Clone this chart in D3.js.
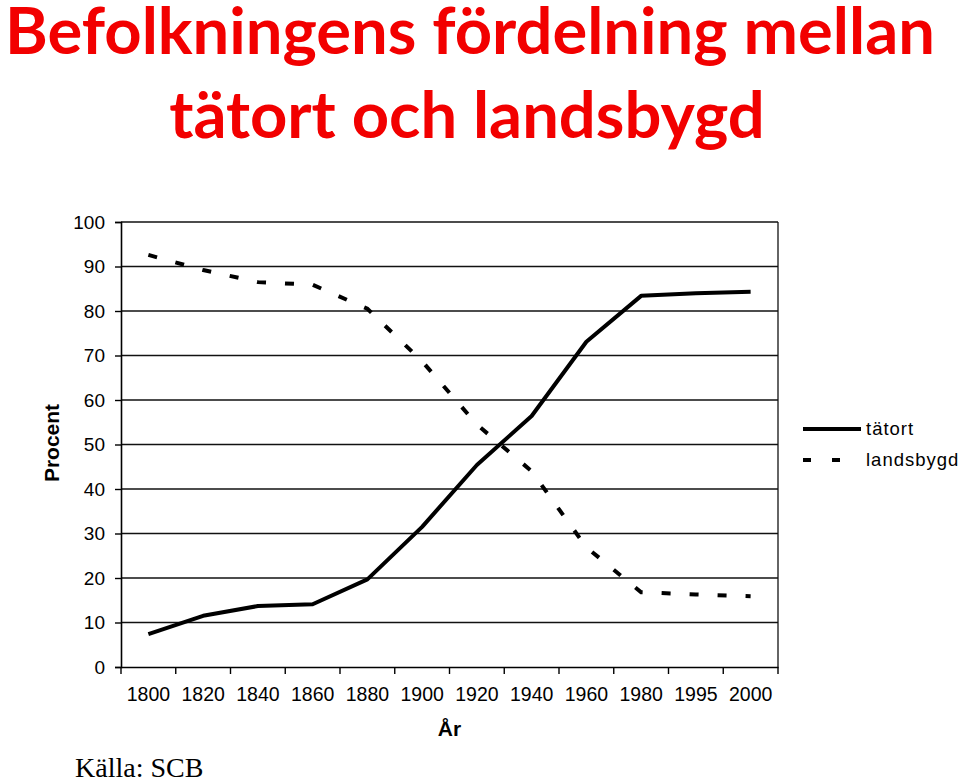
<!DOCTYPE html>
<html>
<head>
<meta charset="utf-8">
<script src="https://cdn.jsdelivr.net/npm/d3@7"></script>
<style>
  html, body { margin: 0; padding: 0; background: #fff; }
  svg { display: block; }
</style>
</head>
<body>
<svg id="chart" width="960" height="782"></svg>
<script>
const years = ["1800","1820","1840","1860","1880","1900","1920","1940","1960","1980","1995","2000"];
const tatort = [7.4, 11.5, 13.7, 14.1, 19.7, 31.5, 45.4, 56.4, 73.1, 83.4, 84.0, 84.3];
const landsbygd = [92.6, 89.2, 86.5, 85.9, 80.5, 68.7, 54.5, 44.0, 26.9, 16.8, 16.3, 15.9];
const yTicks = [0, 10, 20, 30, 40, 50, 60, 70, 80, 90, 100];
const seriesNames = ["tätort", "landsbygd"];
const titleLines = ["Befolkningens fördelning mellan", "tätort och landsbygd"];

(function () {
const svg = d3.select("#chart");
const pLeft = 121, pRight = 778, pTop = 222, pBottom = 667;

const x = d3.scaleBand().domain(years).range([pLeft, pRight]).padding(0);
const y = d3.scaleLinear().domain([0, 100]).range([pBottom, pTop]);

// Title
const titleG = svg.append("g");
const t1 = titleG.append("text")
  .attr("x", 470).attr("y", 54)
  .attr("text-anchor", "middle")
  .attr("font-family", "Lato, 'Open Sans', sans-serif")
  .attr("font-weight", 700)
  .attr("font-size", 60)
  .attr("fill", "#f20000")
  .text(titleLines[0]);
const w = t1.node().getComputedTextLength();
const fs = 60 * 930 / w;
t1.attr("font-size", fs);
titleG.append("text")
  .attr("x", 467).attr("y", 138)
  .attr("text-anchor", "middle")
  .attr("font-family", "Lato, 'Open Sans', sans-serif")
  .attr("font-weight", 700)
  .attr("font-size", fs)
  .attr("fill", "#f20000")
  .text(titleLines[1]);

// Gridlines
svg.append("g").selectAll("line").data(yTicks.filter(d => d > 0)).join("line")
  .attr("x1", pLeft).attr("x2", pRight)
  .attr("y1", d => y(d)).attr("y2", d => y(d))
  .attr("stroke", "#111").attr("stroke-width", 1.3);

// Plot border right
svg.append("line").attr("x1", pRight).attr("x2", pRight).attr("y1", pTop).attr("y2", pBottom)
  .attr("stroke", "#111").attr("stroke-width", 1.3);

// Y axis
const yAxis = d3.axisLeft(y).tickValues(yTicks).tickSize(6).tickPadding(10).tickFormat(d3.format("d"));
const yg = svg.append("g").attr("transform", `translate(${pLeft},0)`).call(yAxis);
yg.select(".domain").attr("stroke", "#000").attr("stroke-width", 1.6);
yg.selectAll(".tick line").attr("stroke", "#000").attr("stroke-width", 1.4);
yg.selectAll(".tick text").attr("font-family", "'Liberation Sans', Arial, sans-serif")
  .attr("font-size", 19).attr("fill", "#000");

// X axis with ticks at band boundaries
const xAxis = d3.axisBottom(x).tickSize(0).tickPadding(20);
const xg = svg.append("g").attr("transform", `translate(0,${pBottom})`).call(xAxis);
xg.select(".domain").attr("stroke", "#000").attr("stroke-width", 1.6);
xg.selectAll(".tick text").attr("font-family", "'Liberation Sans', Arial, sans-serif")
  .attr("font-size", 19.5).attr("fill", "#000");
const bounds = years.map(d => x(d)).concat([x(years[years.length - 1]) + x.bandwidth()]);
xg.append("g").selectAll("line").data(bounds).join("line")
  .attr("x1", d => d).attr("x2", d => d).attr("y1", 0).attr("y2", 7)
  .attr("stroke", "#000").attr("stroke-width", 1.4);

// Lines
const line = d3.line().x((d, i) => x(years[i]) + x.bandwidth() / 2).y(d => y(d));
svg.append("path").datum(landsbygd).attr("d", line)
  .attr("fill", "none").attr("stroke", "#000").attr("stroke-width", 4)
  .attr("stroke-dasharray", "9,19");
svg.append("path").datum(tatort).attr("d", line)
  .attr("fill", "none").attr("stroke", "#000").attr("stroke-width", 4)
  .attr("stroke-linejoin", "round");

// Axis titles
svg.append("text")
  .attr("transform", "translate(59,443) rotate(-90)")
  .attr("text-anchor", "middle")
  .attr("font-family", "'Liberation Sans', Arial, sans-serif")
  .attr("font-weight", 700).attr("font-size", 21)
  .text("Procent");
svg.append("text")
  .attr("x", (pLeft + pRight) / 2).attr("y", 736)
  .attr("text-anchor", "middle")
  .attr("font-family", "'Liberation Sans', Arial, sans-serif")
  .attr("font-weight", 700).attr("font-size", 21)
  .text("År");

// Legend
const legend = svg.append("g");
const legY = [429, 460];
seriesNames.forEach((name, i) => {
  legend.append("line")
    .attr("x1", 803).attr("x2", 861).attr("y1", legY[i]).attr("y2", legY[i])
    .attr("stroke", "#000").attr("stroke-width", 4)
    .attr("stroke-dasharray", i === 1 ? "8,21" : null);
  legend.append("text")
    .attr("x", 866).attr("y", legY[i]).attr("dy", "0.35em")
    .attr("font-family", "'Liberation Sans', Arial, sans-serif")
    .attr("font-size", 18.5).attr("letter-spacing", 1)
    .text(name);
});

// Source
svg.append("text")
  .attr("x", 75).attr("y", 777)
  .attr("font-family", "'Liberation Serif', 'Times New Roman', serif")
  .attr("font-size", 28)
  .text("Källa: SCB");
})();
</script>
</body>
</html>
